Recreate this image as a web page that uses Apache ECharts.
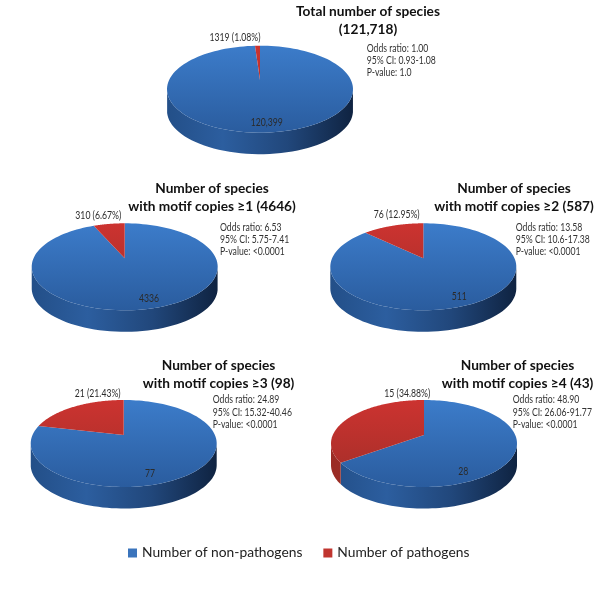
<!DOCTYPE html>
<html><head><meta charset="utf-8">
<style>html,body{margin:0;padding:0;background:#fff}#c{width:600px;height:603px}</style>
<script src="https://cdn.jsdelivr.net/npm/echarts@6/dist/echarts.min.js"></script>
</head><body><div id="c"></div>
<script>
const nonPathogens = [120399, 4336, 511, 77, 28];
const pathogens = [1319, 310, 76, 21, 15];
const nonPathogenLabels = ['120,399', '4336', '511', '77', '28'];
const pathogenLabels = ['1319 (1.08%)', '310 (6.67%)', '76 (12.95%)', '21 (21.43%)', '15 (34.88%)'];
const titles = [
  'Total number of species\n(121,718)',
  'Number of species\nwith motif copies ≥1 (4646)',
  'Number of species\nwith motif copies ≥2 (587)',
  'Number of species\nwith motif copies ≥3 (98)',
  'Number of species\nwith motif copies ≥4 (43)'
];
const stats = [
  ['Odds ratio: 1.00', '95% CI: 0.93-1.08', 'P-value: 1.0'],
  ['Odds ratio: 6.53', '95% CI: 5.75-7.41', 'P-value: <0.0001'],
  ['Odds ratio: 13.58', '95% CI: 10.6-17.38', 'P-value: <0.0001'],
  ['Odds ratio: 24.89', '95% CI: 15.32-40.46', 'P-value: <0.0001'],
  ['Odds ratio: 48.90', '95% CI: 26.06-91.77', 'P-value: <0.0001']
];
const seriesNames = ['Number of non-pathogens', 'Number of pathogens'];

// layout only
const FONT = 'Lato, "Open Sans", sans-serif';
const SMALL = '10.5px ' + FONT;
const SMALL_SCALE = 0.824;
const RX = 93, RY = 43.5, DEPTH = 21.5;
const pies = [
  {cx: 260, top: 45.7, apex: 80},
  {cx: 124.7, top: 223.3, apex: 258.3},
  {cx: 423.3, top: 223.3, apex: 258.3},
  {cx: 123.7, top: 400, apex: 435},
  {cx: 424, top: 400, apex: 435}
];
const titlePos = [[368, 3], [212, 180], [514, 180], [218.5, 356.5], [517.5, 356.5]];
const statPos = [[366.7, 48.3], [220, 227.7], [515.7, 227.7], [212.7, 400], [512.7, 400]];
const nonLabelPos = [[266.7, 122.7], [149, 298.3], [459.3, 296.7], [150, 474], [463.3, 471.7]];
const pathLabelPos = [[235, 37.3], [98.3, 215.7], [396.7, 214.3], [97.7, 394], [407.3, 393.3]];

const palette = {
  blue: {top: ['#3c7cca', '#2a5c9e'], side: ['#234f88', '#2c5e9f', '#21477b', '#0f2341']},
  red: {top: ['#cc3330', '#a22e28'], side: ['#9a2c25', '#a32e28', '#7d231f', '#5a1815']}
};

function slicePoints(pie, a0, a1) {
  const cy = pie.top + RY, d = (cy - pie.apex) / RY, pts = [], n = 120;
  for (let i = 0; i <= n; i++) {
    const th = a0 + (a1 - a0) * i / n, c = Math.cos(th), s = Math.sin(th);
    const t = -d * c + Math.sqrt(d * d * c * c + 1 - d * d);
    const u = t * s, v = -d - t * c;
    pts.push([pie.cx + RX * u, cy + RY * v, v]);
  }
  return pts;
}

function makeRender(isPath, pal, labels, labelPos) {
  return function (params, api) {
    const i = params.dataIndex, pie = pies[i];
    const redFrac = pathogens[i] / (pathogens[i] + nonPathogens[i]);
    const split = 2 * Math.PI * (1 - redFrac);
    const pts = isPath ? slicePoints(pie, split, 2 * Math.PI) : slicePoints(pie, 0, split);
    const xy = pts.map(p => [p[0], p[1]]);
    const apex = [pie.cx, pie.apex];
    const lower = pts.filter(p => p[2] >= 0);
    const children = [];
    if (lower.length > 1) {
      const sidePts = lower.map(p => [p[0], p[1]]).concat(lower.slice().reverse().map(p => [p[0], p[1] + DEPTH]));
      children.push({
        type: 'polygon', shape: {points: sidePts},
        style: {fill: {type: 'linear', x: pie.cx - RX, y: 0, x2: pie.cx + RX, y2: 0, global: true,
          colorStops: [{offset: 0, color: pal.side[0]}, {offset: 0.3, color: pal.side[1]},
            {offset: 0.65, color: pal.side[2]}, {offset: 1, color: pal.side[3]}]}}
      });
    }
    children.push({
      type: 'polygon', shape: {points: [apex].concat(xy)},
      style: {fill: {type: 'linear', x: 0, y: pie.top, x2: 0, y2: pie.top + 2 * RY, global: true,
        colorStops: [{offset: 0, color: pal.top[0]}, {offset: 1, color: pal.top[1]}]}}
    });
    children.push({
      type: 'text', z2: 10, x: labelPos[i][0], y: labelPos[i][1], scaleX: SMALL_SCALE,
      style: {x: 0, y: 0, text: labels[i], fill: '#2b2b2b',
        font: SMALL, textAlign: 'center', textVerticalAlign: 'middle'}
    });
    return {type: 'group', children};
  };
}

const graphic = [];
stats.forEach((lines, i) => lines.forEach((t, j) => graphic.push({
  type: 'text', z: 20, silent: true,
  x: statPos[i][0], y: statPos[i][1] + j * 12.2, scaleX: SMALL_SCALE,
  style: {x: 0, y: 0, text: t, fill: '#333',
    font: SMALL, textAlign: 'left', textVerticalAlign: 'middle'}
})));

const chart = echarts.init(document.getElementById('c'), null, {renderer: 'canvas'});
chart.setOption({
  animation: false,
  backgroundColor: '#fff',
  title: titles.map((t, i) => ({
    text: t, left: titlePos[i][0], top: titlePos[i][1], textAlign: 'center', padding: 0,
    textStyle: {fontFamily: FONT, fontWeight: 'bold', fontSize: 13.7, lineHeight: 18, color: '#111'}
  })),
  legend: {
    data: seriesNames, left: 128, top: 546, padding: 0, itemWidth: 9, itemHeight: 9, itemGap: 21,
    icon: 'rect', selectedMode: false,
    textStyle: {fontFamily: FONT, fontSize: 13.8, color: '#222'}
  },
  graphic,
  series: [
    {type: 'custom', name: seriesNames[0], coordinateSystem: 'none', silent: true,
     itemStyle: {color: '#3a74bc'}, data: nonPathogens,
     renderItem: makeRender(false, palette.blue, nonPathogenLabels, nonLabelPos)},
    {type: 'custom', name: seriesNames[1], coordinateSystem: 'none', silent: true,
     itemStyle: {color: '#c0352f'}, data: pathogens,
     renderItem: makeRender(true, palette.red, pathogenLabels, pathLabelPos)}
  ]
});
</script></body></html>
